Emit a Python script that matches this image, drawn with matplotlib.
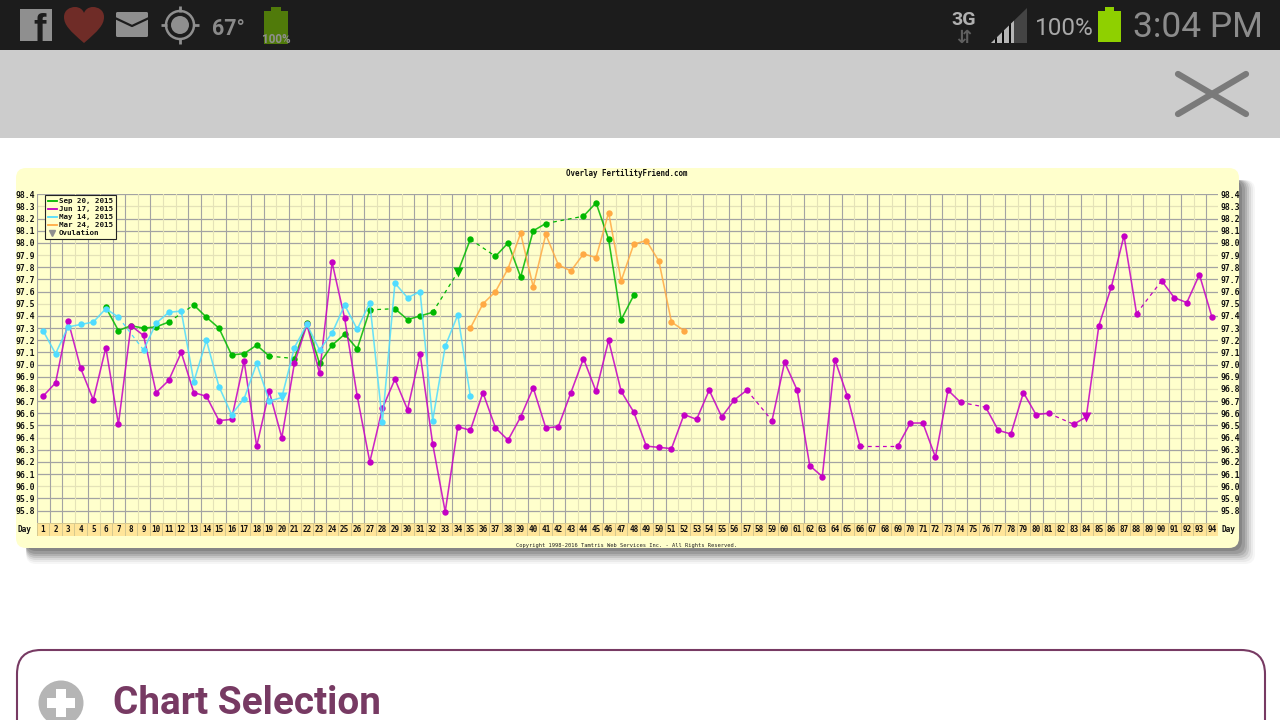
import numpy as np
import matplotlib
matplotlib.use("Agg")
import matplotlib.pyplot as plt
from matplotlib.lines import Line2D
from matplotlib.patches import Circle, FancyBboxPatch, PathPatch, Polygon, Rectangle
from matplotlib.path import Path

N = None
days = list(range(1, 95))
sep20_days = list(range(6, 49))
sep20 = [97.47, 97.28, 97.32, 97.30, 97.31, 97.35, N, 97.49, 97.39, 97.30, 97.08, 97.09, 97.16, 97.07, N,
         97.05, 97.34, 97.01, 97.16, 97.25, 97.13, 97.45, N, 97.46, 97.37, 97.40, 97.43, N, 97.76, 98.03, N,
         97.89, 98.00, 97.72, 98.10, 98.16, N, N, 98.22, 98.33, 98.03, 97.37, 97.57]
jun17 = [96.74, 96.85, 97.36, 96.97, 96.71, 97.14, 96.51, 97.32, 97.24, 96.77, 96.87, 97.10, 96.77, 96.74,
         96.54, 96.55, 97.03, 96.33, 96.78, 96.40, 97.01, 97.33, 96.93, 97.84, 97.38, 96.74, 96.20, 96.64,
         96.88, 96.63, 97.09, 96.35, 95.79, 96.49, 96.46, 96.77, 96.48, 96.38, 96.57, 96.81, 96.48, 96.49,
         96.77, 97.05, 96.78, 97.20, 96.78, 96.61, 96.33, 96.32, 96.31, 96.59, 96.55, 96.79, 96.57, 96.71,
         96.79, N, 96.54, 97.02, 96.79, 96.17, 96.08, 97.04, 96.74, 96.33, N, N, 96.33, 96.52, 96.52, 96.24,
         96.79, 96.69, N, 96.65, 96.46, 96.43, 96.77, 96.59, 96.60, N, 96.51, 96.57, 97.32, 97.64, 98.06,
         97.42, N, 97.69, 97.55, 97.51, 97.74, 97.39]
may14_days = list(range(1, 36))
may14 = [97.28, 97.09, 97.31, 97.33, 97.35, 97.46, 97.39, N, 97.12, 97.34, 97.43, 97.44, 96.86, 97.20, 96.82,
         96.59, 96.72, 97.01, 96.70, 96.73, 97.14, 97.33, 97.12, 97.26, 97.49, 97.29, 97.51, 96.53, 97.67,
         97.55, 97.60, 96.54, 97.15, 97.41, 96.74]
mar24_days = list(range(35, 53))
mar24 = [97.30, 97.50, 97.60, 97.79, 98.08, 97.64, 98.07, 97.82, 97.77, 97.91, 97.88, 98.25, 97.69, 97.99,
         98.02, 97.85, 97.35, 97.28]
temp_ticks = [round(95.8 + 0.1 * i, 1) for i in range(27)]
faint_temps = [98.3, 97.9, 97.5, 96.8, 96.4, 96.0]
faint_days = [3, 5, 8, 10, 11, 14, 16, 19, 21, 24, 27, 29, 32, 35, 38, 40, 43, 46, 48, 51, 52, 54, 57, 60, 62,
              65, 68, 70, 73, 76, 78, 81, 84, 87, 89, 92]

GREEN = "#00b800"
MAGENTA = "#c400c4"
BLUE = "#50dcff"
ORANGE = "#ffaa44"
PURPLE = "#773a63"
MONO = "DejaVu Sans Mono"

series = [
    ("Sep 20, 2015", sep20_days, sep20, GREEN, 34),
    ("Jun 17, 2015", days, jun17, MAGENTA, 84),
    ("May 14, 2015", may14_days, may14, BLUE, 20),
    ("Mar 24, 2015", mar24_days, mar24, ORANGE, None),
]

fig = plt.figure(figsize=(12.8, 7.2), dpi=100, facecolor="white")


def px_axes(left, top, right, bottom):
    return fig.add_axes([left / 1280, 1 - bottom / 720, (right - left) / 1280, (bottom - top) / 720])


# page furniture, in screen pixels
bg = fig.add_axes([0, 0, 1, 1])
bg.set_xlim(0, 1280)
bg.set_ylim(720, 0)
bg.axis("off")
bg.add_patch(Rectangle((0, 0), 1280, 50, color="#1c1c1c", lw=0))
bg.add_patch(Rectangle((0, 50), 1280, 88, color="#cccccc", lw=0))

# left status icons
bg.add_patch(Rectangle((20, 9), 32, 32, color="#8f8f8f", lw=0))
bg.text(40, 41, "f", color="#1c1c1c", fontsize=27, fontweight="bold", family="Liberation Sans", ha="center", va="baseline")
heart = Path([(84, 43), (70, 31), (64, 25), (64, 17), (64, 10), (70, 7), (75, 7), (80, 7), (83, 10), (84, 13),
              (85, 10), (88, 7), (93, 7), (98, 7), (104, 10), (104, 17), (104, 25), (98, 31), (84, 43)],
             [Path.MOVETO] + [Path.CURVE4] * 18)
bg.add_patch(PathPatch(heart, fc="#6f2c27", ec="none"))
bg.add_patch(FancyBboxPatch((116, 12), 32, 25, boxstyle="round,pad=0,rounding_size=1.5", fc="#8f8f8f", ec="none"))
bg.plot([115, 132, 149], [18, 26, 18], color="#1c1c1c", lw=1.6)
bg.add_patch(Circle((180, 25), 14, fc="none", ec="#8f8f8f", lw=1.8))
bg.add_patch(Circle((180, 25), 9, fc="#8f8f8f", ec="none"))
for x0, y0, x1, y1 in [(161, 25, 167, 25), (193, 25, 199, 25), (180, 6, 180, 12), (180, 38, 180, 44)]:
    bg.plot([x0, x1], [y0, y1], color="#8f8f8f", lw=2, solid_capstyle="butt")
bg.text(212, 35, "67°", color="#8a8a8a", fontsize=15.5, fontweight="bold", family="Roboto", va="baseline")
bg.add_patch(Rectangle((264, 11), 24, 33, color="#507a0a", lw=0))
bg.add_patch(Rectangle((271, 7), 10, 4, color="#507a0a", lw=0))
bg.text(276, 43, "100%", color="#8f8f8f", fontsize=8.5, fontweight="bold", family="Roboto", ha="center", va="baseline")

# right status icons
bg.text(964, 25, "3G", color="#b0b0b0", fontsize=14, fontweight="bold", family="Roboto", ha="center", va="baseline")
bg.text(964, 43, "⇵", color="#5f5f5f", fontsize=13, fontweight="bold", family="DejaVu Sans", ha="center", va="baseline")
bg.add_patch(Polygon([(991, 43), (1027, 8), (1027, 43)], color="#444444", lw=0))
for x0, x1, col in [(991, 995, "#b5b5b5"), (995, 997, "#0c0c0c"), (997, 1002, "#b5b5b5"), (1002, 1004, "#0c0c0c"),
                    (1004, 1009, "#b5b5b5"), (1009, 1011, "#0c0c0c"), (1011, 1014, "#b5b5b5")]:
    bg.add_patch(Polygon([(x0, 43), (x0, 43 - (x0 - 991) * 35 / 36), (x1, 43 - (x1 - 991) * 35 / 36), (x1, 43)],
                         color=col, lw=0))
bg.text(1035, 35, "100%", color="#a8a8a8", fontsize=17.5, family="Roboto", va="baseline")
bg.add_patch(Rectangle((1098, 11), 23, 31, color="#8fd000", lw=0))
bg.add_patch(Rectangle((1105, 7), 9, 4, color="#8fd000", lw=0))
bg.text(1133, 37, "3:04 PM", color="#8c8c8c", fontsize=25.5, family="Roboto", va="baseline")

# close button
bg.plot([1178, 1246], [74, 114], color="#7a7a7a", lw=4.5, solid_capstyle="round")
bg.plot([1246, 1178], [74, 114], color="#7a7a7a", lw=4.5, solid_capstyle="round")

# chart card and its shadow, only to the right and below
for grow, alpha in [(16, 0.05), (14, 0.08), (12, 0.12), (10, 0.16), (8, 0.2), (6, 0.26), (3, 0.34)]:
    bg.add_patch(FancyBboxPatch((26, 180), 1213 + grow, 368 + grow,
                                boxstyle="round,pad=0,rounding_size=10", fc="#606060", ec="none", alpha=alpha))
bg.add_patch(FancyBboxPatch((16, 168), 1223, 380, boxstyle="round,pad=0,rounding_size=10", fc="#ffffcc", ec="none"))
bg.text(627, 173.5, "Overlay FertilityFriend.com", family=MONO, fontweight="bold", fontsize=5.45, ha="center", va="center", color="#111111")
bg.text(627, 545.5, "Copyright 1998-2016 Tamtris Web Services Inc. - All Rights Reserved.", family=MONO, fontsize=3.9,
        ha="center", va="center", color="#222222")
bg.text(24, 529, "Day", family=MONO, fontweight="bold", fontsize=5.6, ha="center", va="center", color="#111111")
bg.text(1228, 529, "Day", family=MONO, fontweight="bold", fontsize=5.6, ha="center", va="center", color="#111111")

# chart selection card
bg.add_patch(FancyBboxPatch((17, 650), 1248, 120, boxstyle="round,pad=0,rounding_size=24", fc="white", ec=PURPLE, lw=1.5))
bg.add_patch(Circle((61, 703), 22.5, fc="#b5b5b5", ec="none"))
bg.add_patch(Rectangle((47, 698), 28, 10, color="white", lw=0))
bg.add_patch(Rectangle((56, 689), 10, 28, color="white", lw=0))
bg.text(113, 714, "Chart Selection", color=PURPLE, fontsize=27.9, fontweight="bold", family="Roboto", va="baseline")

# the temperature chart
ax = px_axes(37.3, 194.3, 1218, 522.8)
ax.set_facecolor("#ffffcc")
ax.set_xlim(0.547, 94.48)
ax.set_ylim(95.7, 98.4)
for t in temp_ticks:
    ax.axhline(t, color="#e4e2b8" if t in faint_temps else "#a3a3a3", lw=0.9, zorder=1)
for i in range(95):
    ax.axvline(i + 0.547, color="#e4e2b8" if i in faint_days else "#a3a3a3", lw=0.8, zorder=1)

ax.set_xticks([])
ax.set_yticks(temp_ticks)
ax.set_yticklabels([f"{t:.1f}" for t in temp_ticks], family=MONO, fontweight="bold", fontsize=5.9, color="#111111")
ax.tick_params(axis="y", length=0, pad=1.8, labelleft=True)
right = ax.twinx()
right.set_ylim(ax.get_ylim())
right.set_yticks(temp_ticks)
right.set_yticklabels([f"{t:.1f}" for t in temp_ticks], family=MONO, fontweight="bold", fontsize=5.9, color="#111111")
right.tick_params(axis="y", length=0, pad=1.8)
for a in (ax, right):
    for s in a.spines.values():
        s.set_visible(False)
ax.set_zorder(right.get_zorder() + 1)


def plot_series(label, xs, ys, color, ovulation, z):
    vals = np.array([np.nan if v is None else v for v in ys], dtype=float)
    xs = np.array(xs)
    ok = ~np.isnan(vals)
    ax.plot(xs, vals, color=color, lw=1.15, alpha=0.85, zorder=z, solid_joinstyle="round")
    # dashed join across the days with no reading
    kept_x, kept_y = xs[ok], vals[ok]
    for j in range(len(kept_x) - 1):
        if kept_x[j + 1] - kept_x[j] > 1:
            ax.plot(kept_x[j:j + 2], kept_y[j:j + 2], color=color, lw=0.9, ls=(0, (3, 3)), zorder=z)
    reg = ok & (xs != ovulation)
    ax.plot(xs[reg], vals[reg], ls="none", marker="o", ms=4.6, mec="none", color=color, zorder=z + 0.5)
    if ovulation is not None:
        ax.plot(xs[xs == ovulation], vals[xs == ovulation], ls="none", marker="v", ms=7, mec="none", color=color, zorder=z + 0.5)


for n, (label, xs, ys, color, ovulation) in enumerate(series):
    plot_series(label, xs, ys, color, ovulation, 3 + n)

# legend
handles = [Line2D([], [], color=c, lw=1.3, label=lab) for lab, _, _, c, _ in series]
handles.append(Line2D([], [], color="#8f8f8f", ls="none", marker="v", ms=4.5, label="Ovulation"))
leg = ax.legend(handles=handles, loc="upper left", bbox_to_anchor=((44.5 - 37.3) / 1180.7, 1 - (195 - 194.3) / 328.5),
                prop={"family": MONO, "weight": "bold", "size": 5.4}, frameon=True, fancybox=False,
                framealpha=1, facecolor="#ffffcc", edgecolor="#222222", borderaxespad=0, borderpad=0.4,
                labelspacing=0.24, handlelength=1.2, handletextpad=0.3)
leg.get_frame().set_linewidth(0.8)
leg.set_zorder(10)
for txt in leg.get_texts():
    txt.set_color("#111111")

# day strip under the grid
band = px_axes(37.3, 522.8, 1218, 536)
band.set_xlim(0.547, 94.48)
band.set_ylim(0, 1)
band.axis("off")
band.bar(days, [1] * len(days), width=1, color="#ffe599", edgecolor="#d6c98f", lw=0.7)
for d in days:
    band.text(d, 0.46, str(d), family=MONO, fontweight="bold", fontsize=5.5, ha="center", va="center", color="#111111")

plt.savefig("out.png", dpi=100)
